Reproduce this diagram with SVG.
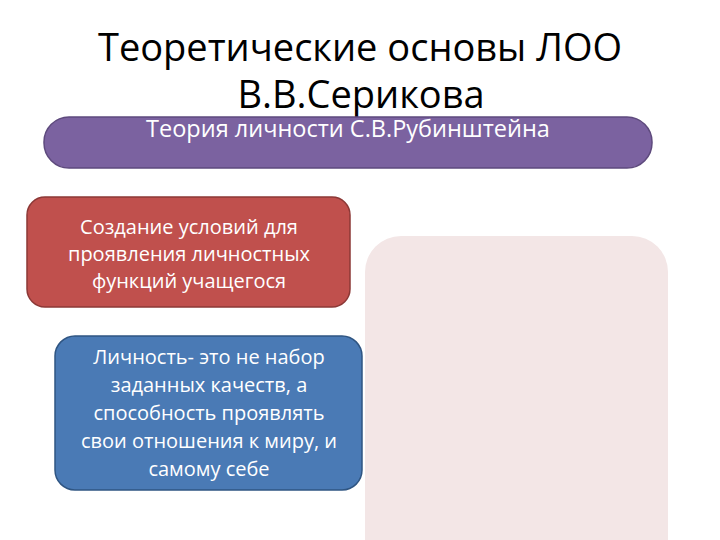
<svg xmlns="http://www.w3.org/2000/svg" width="720" height="540" viewBox="0 0 720 540">
<style>
.t{font-family:"Open Sans","Noto Sans","Liberation Sans",sans-serif;text-anchor:middle}
.title{font-size:38px;fill:#000}
.w{fill:#fff;font-size:20px}
</style>
<rect width="720" height="540" fill="#fff"/>
<g id="pink-panel"><rect x="365" y="236" width="303" height="340" rx="36" fill="#f3e6e6"/></g>
<g id="title">
<text class="t title" x="360" y="61">Теоретические основы ЛОО</text>
<text class="t title" x="361" y="108">В.В.Серикова</text>
</g>
<g id="purple"><rect x="44" y="117" width="608" height="51" rx="25" fill="#7b62a0" stroke="#5e4a7d" stroke-width="1.5"/>
<text class="t w" x="348" y="137" style="font-size:23.5px">Теория личности С.В.Рубинштейна</text></g>
<g id="red"><rect x="27" y="197" width="323" height="110" rx="18" fill="#c0504d" stroke="#8c3836" stroke-width="1.5"/>
<text class="t w" x="189" y="234">Создание условий для</text>
<text class="t w" x="189" y="261">проявления личностных</text>
<text class="t w" x="189" y="288">функций учащегося</text></g>
<g id="blue"><rect x="55" y="336" width="307" height="154" rx="20" fill="#4a7ab5" stroke="#2f5582" stroke-width="1.5"/>
<text class="t w" x="209" y="364">Личность- это не набор</text>
<text class="t w" x="209" y="392">заданных качеств, а</text>
<text class="t w" x="209" y="420">способность проявлять</text>
<text class="t w" x="209" y="448">свои отношения к миру, и</text>
<text class="t w" x="209" y="476">самому себе</text></g>
<g id="connectors"></g>
</svg>
